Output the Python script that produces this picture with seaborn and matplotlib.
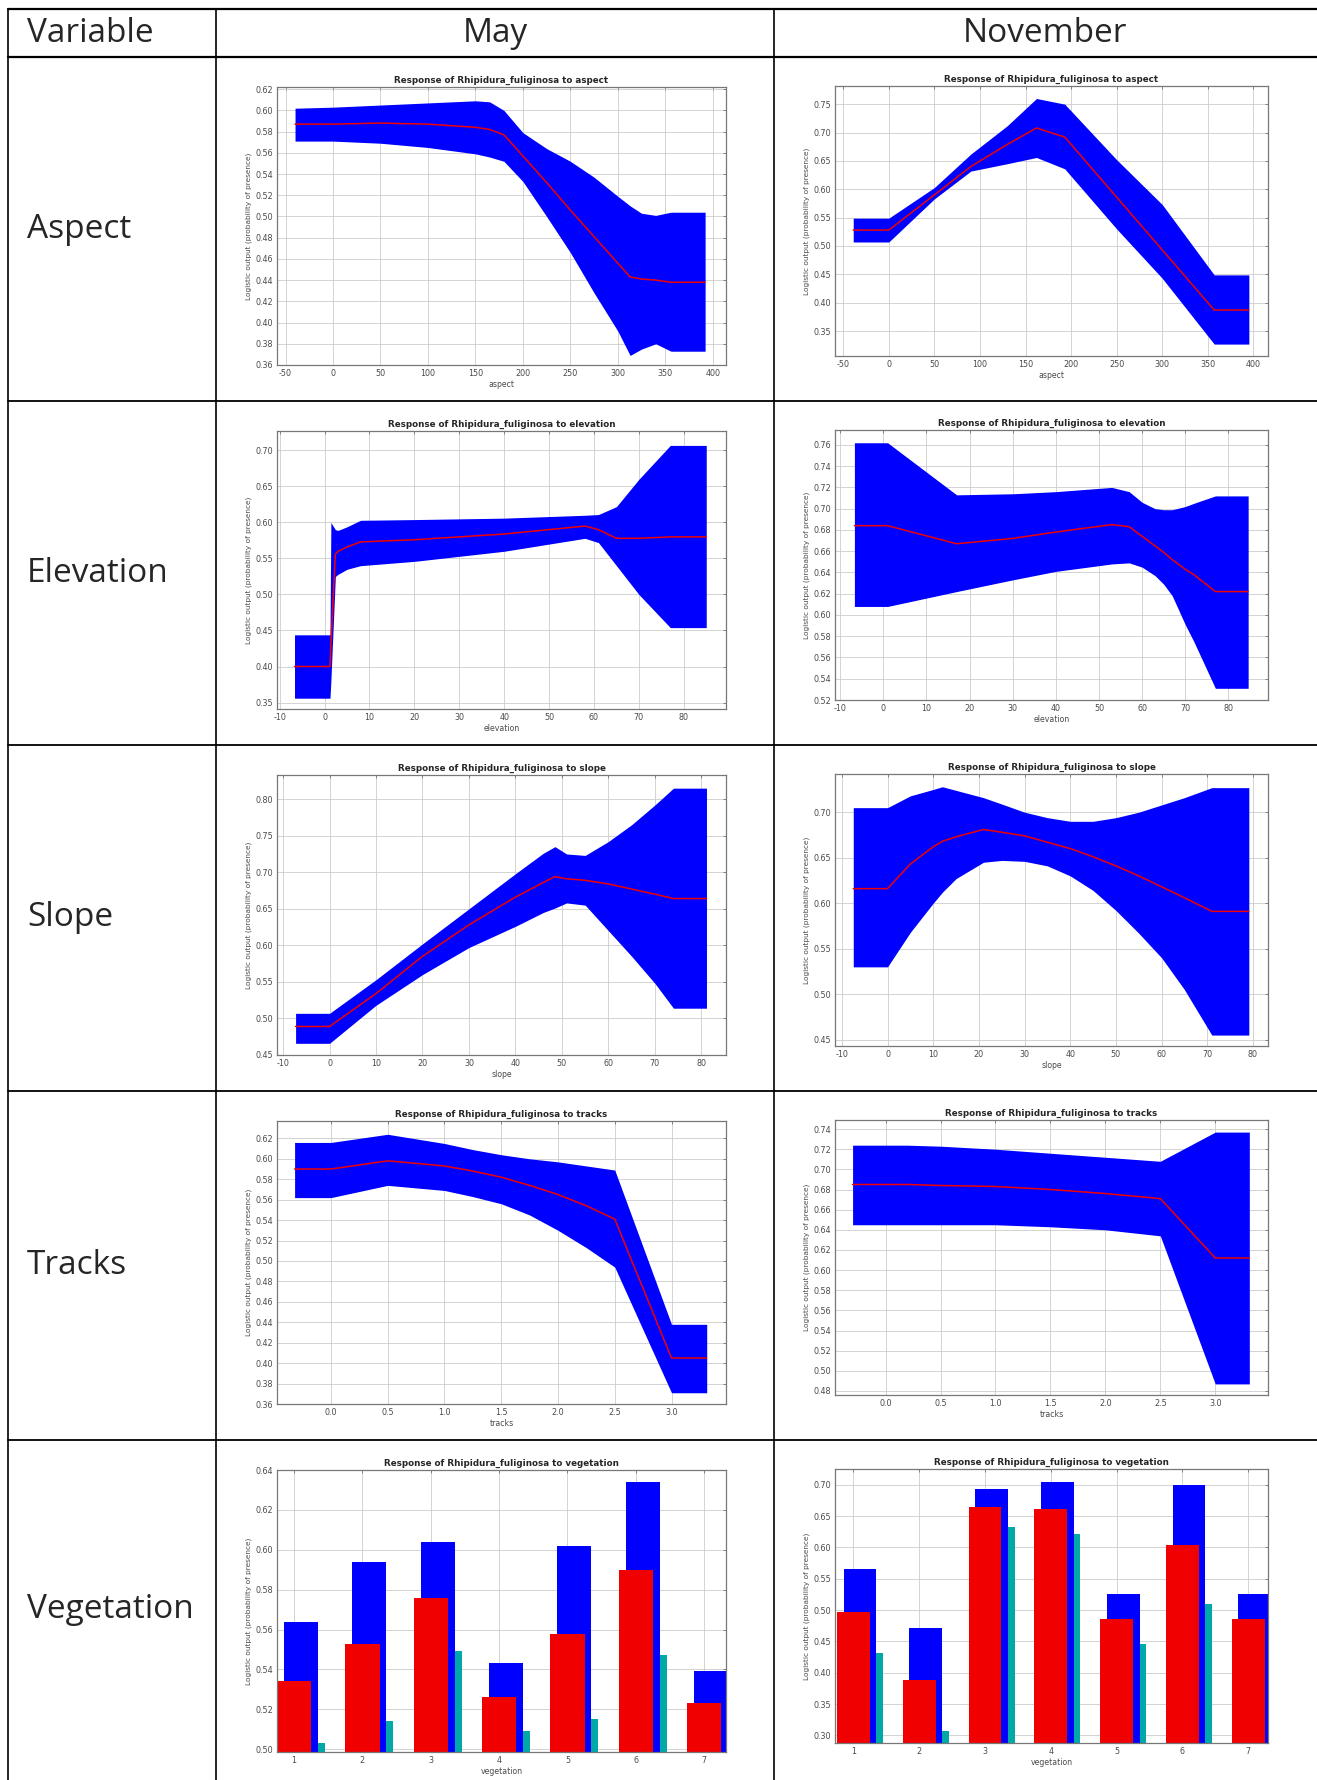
import matplotlib
matplotlib.use("Agg")
import matplotlib.pyplot as plt
import seaborn as sns
from matplotlib.lines import Line2D
from matplotlib.ticker import FormatStrFormatter


# ==========================================
# DATA
# ==========================================
species = "Rhipidura_fuliginosa"
row_names = ["Aspect", "Elevation", "Slope", "Tracks", "Vegetation"]
col_names = ["Variable", "May", "November"]

# --- aspect ---
may_aspect_x = [-40, 0, 50, 100, 150, 165, 180, 200, 225, 250, 275, 300, 313, 325, 340, 356, 392]
may_aspect_mean = [0.587, 0.587, 0.588, 0.587, 0.584, 0.582, 0.577, 0.557, 0.532, 0.506, 0.481,
                   0.456, 0.443, 0.441, 0.440, 0.438, 0.438]
may_aspect_hi = [0.602, 0.603, 0.605, 0.607, 0.609, 0.608, 0.600, 0.579, 0.564, 0.552, 0.537,
                 0.519, 0.510, 0.503, 0.501, 0.504, 0.504]
may_aspect_lo = [0.571, 0.571, 0.569, 0.565, 0.559, 0.556, 0.552, 0.533, 0.500, 0.466, 0.428,
                 0.392, 0.369, 0.375, 0.380, 0.373, 0.373]

nov_aspect_x = [-39, 0, 50, 90, 130, 162, 193, 250, 300, 357, 395]
nov_aspect_mean = [0.528, 0.528, 0.590, 0.640, 0.679, 0.708, 0.692, 0.586, 0.493, 0.387, 0.387]
nov_aspect_hi = [0.549, 0.549, 0.603, 0.662, 0.712, 0.760, 0.750, 0.652, 0.573, 0.449, 0.449]
nov_aspect_lo = [0.507, 0.507, 0.583, 0.632, 0.645, 0.656, 0.636, 0.530, 0.443, 0.327, 0.327]

# --- elevation ---
may_elev_x = [-6.7, 1.2, 1.4, 2.4, 3.0, 5.0, 8.0, 20, 40, 58, 61, 65, 70, 77, 85]
may_elev_mean = [0.400, 0.400, 0.430, 0.556, 0.560, 0.566, 0.573, 0.576, 0.584, 0.595, 0.590,
                 0.578, 0.578, 0.580, 0.580]
may_elev_hi = [0.444, 0.444, 0.600, 0.590, 0.589, 0.594, 0.603, 0.604, 0.606, 0.610, 0.611,
               0.622, 0.660, 0.707, 0.707]
may_elev_lo = [0.356, 0.356, 0.380, 0.525, 0.528, 0.535, 0.540, 0.546, 0.560, 0.578, 0.572,
               0.540, 0.500, 0.454, 0.454]

nov_elev_x = [-6.7, 1, 17, 30, 40, 53, 57, 60, 63, 65, 67, 70, 72, 77, 84.6]
nov_elev_mean = [0.684, 0.684, 0.667, 0.672, 0.678, 0.685, 0.683, 0.674, 0.665, 0.659, 0.652,
                 0.643, 0.638, 0.622, 0.622]
nov_elev_hi = [0.762, 0.762, 0.713, 0.714, 0.716, 0.720, 0.716, 0.706, 0.700, 0.699, 0.699,
               0.702, 0.705, 0.712, 0.712]
nov_elev_lo = [0.608, 0.608, 0.622, 0.633, 0.641, 0.648, 0.649, 0.645, 0.637, 0.629, 0.618,
               0.591, 0.575, 0.531, 0.531]

# --- slope ---
may_slope_x = [-7.3, 0, 10, 20, 30, 40, 46, 48.5, 51, 55, 60, 65, 70, 74, 81.1]
may_slope_mean = [0.489, 0.489, 0.534, 0.585, 0.628, 0.666, 0.686, 0.694, 0.691, 0.689, 0.684,
                  0.677, 0.670, 0.664, 0.664]
may_slope_hi = [0.507, 0.507, 0.553, 0.602, 0.650, 0.698, 0.726, 0.735, 0.725, 0.723, 0.742,
                0.765, 0.792, 0.815, 0.815]
may_slope_lo = [0.466, 0.466, 0.518, 0.560, 0.597, 0.626, 0.645, 0.651, 0.658, 0.655, 0.620,
                0.585, 0.548, 0.514, 0.514]

nov_slope_x = [-7.5, 0, 5, 10, 12, 15, 21, 25, 30, 35, 40, 45, 50, 55, 60, 65, 71, 79.1]
nov_slope_mean = [0.616, 0.616, 0.643, 0.662, 0.668, 0.673, 0.681, 0.678, 0.674, 0.667, 0.660,
                  0.651, 0.641, 0.630, 0.618, 0.606, 0.591, 0.591]
nov_slope_hi = [0.705, 0.705, 0.718, 0.725, 0.728, 0.724, 0.716, 0.709, 0.700, 0.694, 0.690,
                0.690, 0.694, 0.700, 0.708, 0.716, 0.727, 0.727]
nov_slope_lo = [0.530, 0.530, 0.568, 0.600, 0.612, 0.627, 0.645, 0.647, 0.646, 0.641, 0.630,
                0.614, 0.592, 0.567, 0.540, 0.505, 0.455, 0.455]

# --- tracks ---
may_tracks_x = [-0.32, 0, 0.5, 1.0, 1.25, 1.5, 1.75, 2.0, 2.25, 2.5, 3.0, 3.31]
may_tracks_mean = [0.590, 0.590, 0.598, 0.593, 0.588, 0.582, 0.574, 0.565, 0.554, 0.541, 0.405, 0.405]
may_tracks_hi = [0.616, 0.616, 0.624, 0.615, 0.609, 0.604, 0.600, 0.597, 0.593, 0.589, 0.438, 0.438]
may_tracks_lo = [0.562, 0.562, 0.574, 0.569, 0.563, 0.556, 0.545, 0.530, 0.513, 0.494, 0.371, 0.371]

nov_tracks_x = [-0.3, 0.2, 0.5, 1.0, 1.5, 2.0, 2.5, 3.0, 3.31]
nov_tracks_mean = [0.685, 0.685, 0.684, 0.683, 0.680, 0.676, 0.671, 0.612, 0.612]
nov_tracks_hi = [0.724, 0.724, 0.723, 0.720, 0.716, 0.712, 0.708, 0.737, 0.737]
nov_tracks_lo = [0.645, 0.645, 0.645, 0.645, 0.643, 0.640, 0.634, 0.487, 0.487]

# --- vegetation (categorical) ---
veg_classes = [1, 2, 3, 4, 5, 6, 7]
may_veg_mean = [0.534, 0.553, 0.576, 0.526, 0.558, 0.590, 0.523]
may_veg_hi = [0.564, 0.594, 0.604, 0.543, 0.602, 0.634, 0.539]
may_veg_lo = [0.503, 0.514, 0.549, 0.509, 0.515, 0.547, 0.495]
nov_veg_mean = [0.497, 0.389, 0.664, 0.662, 0.486, 0.603, 0.486]
nov_veg_hi = [0.565, 0.472, 0.693, 0.705, 0.526, 0.700, 0.526]
nov_veg_lo = [0.431, 0.307, 0.633, 0.621, 0.446, 0.509, 0.446]

# --- ticks ---
aspect_xticks = [-50, 0, 50, 100, 150, 200, 250, 300, 350, 400]
ten_xticks = [-10, 0, 10, 20, 30, 40, 50, 60, 70, 80]
tracks_xticks = [0.0, 0.5, 1.0, 1.5, 2.0, 2.5, 3.0]
may_aspect_yticks = [0.36, 0.38, 0.40, 0.42, 0.44, 0.46, 0.48, 0.50, 0.52, 0.54, 0.56, 0.58, 0.60, 0.62]
nov_aspect_yticks = [0.35, 0.40, 0.45, 0.50, 0.55, 0.60, 0.65, 0.70, 0.75]
may_elev_yticks = [0.35, 0.40, 0.45, 0.50, 0.55, 0.60, 0.65, 0.70]
nov_elev_yticks = [0.52, 0.54, 0.56, 0.58, 0.60, 0.62, 0.64, 0.66, 0.68, 0.70, 0.72, 0.74, 0.76]
may_slope_yticks = [0.45, 0.50, 0.55, 0.60, 0.65, 0.70, 0.75, 0.80]
nov_slope_yticks = [0.45, 0.50, 0.55, 0.60, 0.65, 0.70]
may_tracks_yticks = [0.36, 0.38, 0.40, 0.42, 0.44, 0.46, 0.48, 0.50, 0.52, 0.54, 0.56, 0.58, 0.60, 0.62]
nov_tracks_yticks = [0.48, 0.50, 0.52, 0.54, 0.56, 0.58, 0.60, 0.62, 0.64, 0.66, 0.68, 0.70, 0.72, 0.74]
may_veg_yticks = [0.50, 0.52, 0.54, 0.56, 0.58, 0.60, 0.62, 0.64]
nov_veg_yticks = [0.30, 0.35, 0.40, 0.45, 0.50, 0.55, 0.60, 0.65, 0.70]


# ==========================================
# STYLE
# ==========================================
sns.set_theme(style="white")
plt.rcParams["font.family"] = ["DejaVu Sans"]

W, H = 1317, 1780
col_x = [8, 216, 774, 1317]
row_y = [9, 57, 401, 745, 1091, 1440, 1780]

BLUE = "#0000ff"
RED = "#f00000"
TEAL = "#00a8a8"
TICK_GREY = "#4a4a4a"


def px_rect(x0, y0, x1, y1):
    return [x0 / W, 1 - y1 / H, (x1 - x0) / W, (y1 - y0) / H]


def style_axes(ax, var, xlim, ylim, xticks, yticks, xfmt):

    ax.set_xlim(*xlim)
    ax.set_ylim(*ylim)
    ax.set_xticks(xticks)
    ax.set_yticks(yticks)
    ax.xaxis.set_major_formatter(FormatStrFormatter(xfmt))
    ax.yaxis.set_major_formatter(FormatStrFormatter("%.2f"))

    ax.set_axisbelow(True)
    ax.grid(True, color="#cccccc", linewidth=0.6)

    for sp in ax.spines.values():
        sp.set_color("#777777")
        sp.set_linewidth(0.9)

    ax.tick_params(
        direction="in",
        top=True,
        right=True,
        length=2.5,
        width=0.5,
        pad=3,
        labelsize=5.8,
        color="#606060",
        labelcolor=TICK_GREY
    )

    ax.set_title(
        f"Response of {species} to {var}",
        fontsize=6.3,
        fontweight="bold",
        pad=3
    )
    ax.set_xlabel(var, fontsize=5.6, color=TICK_GREY, labelpad=1)
    ax.set_ylabel(
        "Logistic output (probability of presence)",
        fontsize=5.3,
        color=TICK_GREY,
        labelpad=2
    )


def draw_response(ax, x, mean, lo, hi):

    ax.fill_between(x, lo, hi, color=BLUE, linewidth=0)

    sns.lineplot(x=x, y=mean, color=RED, linewidth=1.1, ax=ax)


def draw_bars(ax, cats, mean, lo, hi):

    # matlab-style grouped bars: lower, upper, mean drawn on top
    for vals, shift, col in [(lo, 0.2, TEAL), (hi, 0.1, BLUE), (mean, 0.0, RED)]:
        sns.barplot(
            x=[c + shift for c in cats],
            y=vals,
            native_scale=True,
            width=0.5,
            color=col,
            saturation=1,
            errorbar=None,
            linewidth=0,
            ax=ax
        )


# ==========================================
# FIGURE
# ==========================================
fig = plt.figure(figsize=(W / 100, H / 100), dpi=100)

panels = [
    # (row, col, kind, data, var, xlim, ylim, xticks, yticks, xfmt)
    (0, 0, "line", (may_aspect_x, may_aspect_mean, may_aspect_lo, may_aspect_hi), "aspect",
     (-59, 414), (0.36, 0.622), aspect_xticks, may_aspect_yticks, "%d"),
    (0, 1, "line", (nov_aspect_x, nov_aspect_mean, nov_aspect_lo, nov_aspect_hi), "aspect",
     (-59, 416), (0.306, 0.782), aspect_xticks, nov_aspect_yticks, "%d"),
    (1, 0, "line", (may_elev_x, may_elev_mean, may_elev_lo, may_elev_hi), "elevation",
     (-10.6, 89.4), (0.341, 0.727), ten_xticks, may_elev_yticks, "%d"),
    (1, 1, "line", (nov_elev_x, nov_elev_mean, nov_elev_lo, nov_elev_hi), "elevation",
     (-11.2, 89.2), (0.52, 0.774), ten_xticks, nov_elev_yticks, "%d"),
    (2, 0, "line", (may_slope_x, may_slope_mean, may_slope_lo, may_slope_hi), "slope",
     (-11.3, 85.3), (0.45, 0.833), ten_xticks, may_slope_yticks, "%d"),
    (2, 1, "line", (nov_slope_x, nov_slope_mean, nov_slope_lo, nov_slope_hi), "slope",
     (-11.5, 83.3), (0.443, 0.742), ten_xticks, nov_slope_yticks, "%d"),
    (3, 0, "line", (may_tracks_x, may_tracks_mean, may_tracks_lo, may_tracks_hi), "tracks",
     (-0.475, 3.48), (0.36, 0.637), tracks_xticks, may_tracks_yticks, "%.1f"),
    (3, 1, "line", (nov_tracks_x, nov_tracks_mean, nov_tracks_lo, nov_tracks_hi), "tracks",
     (-0.46, 3.48), (0.476, 0.749), tracks_xticks, nov_tracks_yticks, "%.1f"),
    (4, 0, "bar", (veg_classes, may_veg_mean, may_veg_lo, may_veg_hi), "vegetation",
     (0.75, 7.32), (0.4986, 0.64), veg_classes, may_veg_yticks, "%d"),
    (4, 1, "bar", (veg_classes, nov_veg_mean, nov_veg_lo, nov_veg_hi), "vegetation",
     (0.72, 7.30), (0.288, 0.725), veg_classes, nov_veg_yticks, "%d"),
]

for r, c, kind, data, var, xlim, ylim, xticks, yticks, xfmt in panels:

    cx0, cx1 = col_x[c + 1], col_x[c + 2]
    ry0, ry1 = row_y[r + 1], row_y[r + 2]

    if c == 0:
        top, bottom = 30, (28 if r == 4 else 36)
        right = 48
    else:
        top, bottom = 29, (37 if r == 4 else 45)
        right = 49

    ax = fig.add_axes(px_rect(cx0 + 61, ry0 + top, cx1 - right, ry1 - bottom))

    if kind == "line":
        draw_response(ax, *data)
    else:
        draw_bars(ax, *data)

    style_axes(ax, var, xlim, ylim, xticks, yticks, xfmt)


# ==========================================
# TABLE GRID + TEXT
# ==========================================
def hline(y, x0, x1, lw=1.2):
    fig.add_artist(Line2D([x0 / W, x1 / W], [1 - y / H, 1 - y / H],
                          transform=fig.transFigure, color="black", linewidth=lw))


def vline(x, y0, y1, lw=1.2):
    fig.add_artist(Line2D([x / W, x / W], [1 - y0 / H, 1 - y1 / H],
                          transform=fig.transFigure, color="black", linewidth=lw))


for i, y in enumerate(row_y[:-1]):
    hline(y, col_x[0], W, lw=1.6 if i < 2 else 1.3)

for x in col_x[:-1]:
    vline(x, row_y[0], H)

TABLE_FONT = ["Open Sans", "DejaVu Sans"]

header_y = (row_y[0] + row_y[1]) / 2
fig.text(27 / W, 1 - header_y / H, col_names[0], family=TABLE_FONT,
         fontsize=24, ha="left", va="center")
for j in (1, 2):
    fig.text((col_x[j] + col_x[j + 1]) / 2 / W, 1 - header_y / H, col_names[j],
             family=TABLE_FONT, fontsize=24, ha="center", va="center")

for i, name in enumerate(row_names):
    yc = (row_y[i + 1] + row_y[i + 2]) / 2
    fig.text(27 / W, 1 - yc / H, name, family=TABLE_FONT,
             fontsize=24, ha="left", va="center")

fig.savefig("out.png", dpi=100, facecolor="white")
